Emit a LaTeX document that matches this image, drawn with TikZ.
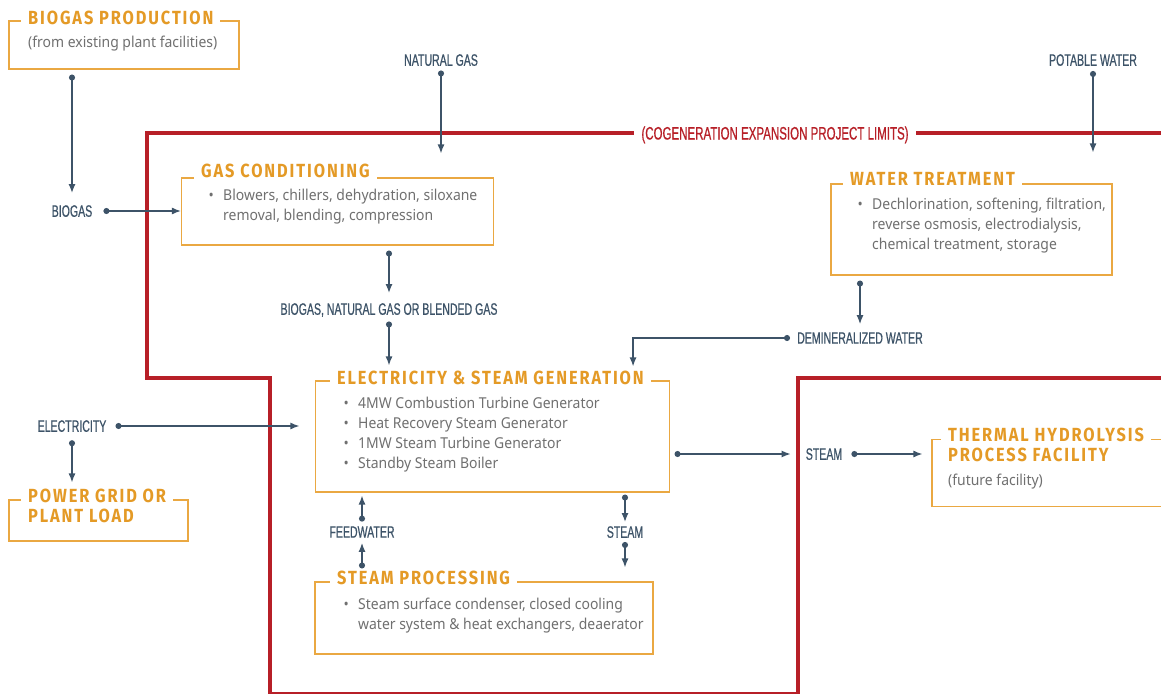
\documentclass[tikz,border=0pt]{standalone}
\usepackage{fontspec}
\usetikzlibrary{arrows.meta}
\definecolor{headorange}{RGB}{228,154,38}
\definecolor{boxorange}{RGB}{234,168,66}
\definecolor{limitred}{RGB}{183,31,39}
\definecolor{slate}{RGB}{61,83,104}
\definecolor{textgray}{RGB}{112,112,112}
\newfontfamily\headfont{Fira Sans}[FakeStretch=0.86,LetterSpace=10]
\newfontfamily\bodyfont{Noto Sans}[FakeStretch=0.93]
\newfontfamily\lblfont{Liberation Sans}[FakeStretch=0.64,FakeBold=0.6]
\newcommand\bul{\makebox[0pt][c]{\textbullet}\hspace*{12pt}}
\newcommand\nobul{\hspace*{12pt}}
\begin{document}
\begin{tikzpicture}[x=1pt,y=-1pt,
  box/.style={draw=boxorange,line width=1.1pt,inner sep=0pt},
  head/.style={font=\headfont\bfseries\fontsize{19}{20}\selectfont,text=headorange,fill=white,inner xsep=7pt,inner ysep=2pt,anchor=base west,align=left},
  body/.style={font=\bodyfont\fontsize{15}{20}\selectfont,text=textgray,inner sep=0pt,anchor=base west,align=left},
  lbl/.style={font=\lblfont\fontsize{16.5}{18}\selectfont,text=slate,inner sep=4pt,text depth=0pt},
  flow/.style={draw=slate,line width=1.4pt,{Circle[length=6pt]}-{Latex[length=9pt,width=7pt]}}]
\clip (0,0) rectangle (1161,693);
\fill[white] (0,0) rectangle (1161,693);
\draw[limitred,line width=4.2pt] (1170,133) -- (147,133) -- (147,378) -- (270,378) -- (270,694) -- (798,694) -- (798,378) -- (1170,378);
\node[font=\lblfont\fontsize{18}{20}\selectfont,text=limitred,fill=white,inner xsep=7pt,text depth=0pt] (limits) at (775,133) {(COGENERATION EXPANSION PROJECT LIMITS)};

\node[box,minimum width=230pt,minimum height=48pt] (biogasprod) at (124,45) {};
\node[box,minimum width=312pt,minimum height=67pt] (gascond) at (337.5,211.5) {};
\node[box,minimum width=281pt,minimum height=91pt] (watertreat) at (971.5,229.5) {};
\node[box,minimum width=354pt,minimum height=111pt] (elecsteam) at (492.5,436.5) {};
\node[box,minimum width=179pt,minimum height=41pt] (powergrid) at (98.5,520.5) {};
\node[box,minimum width=338pt,minimum height=72pt] (steamproc) at (484,618) {};
\node[box,minimum width=260pt,minimum height=67pt] (thermal) at (1062,473) {};

\node[head] (biogasprodhd) at (21,25) {BIOGAS PRODUCTION};
\node[head] (gascondhd) at (194,177.3) {GAS CONDITIONING};
\node[head] (watertreathd) at (843,185) {WATER TREATMENT};
\node[head] (elecsteamhd) at (330,384.3) {ELECTRICITY \& STEAM GENERATION};
\node[head] (powergridhd) at (21,522.7) {POWER GRID OR\\PLANT LOAD};
\node[head] (steamprochd) at (330,584.3) {STEAM PROCESSING};
\node[head] (thermalhd) at (941,461.7) {THERMAL HYDROLYSIS\\PROCESS FACILITY};

\node[body] (biogasprodtx) at (28,48) {(from existing plant facilities)};
\node[body] (gascondtx) at (211,220.5) {\bul Blowers, chillers, dehydration, siloxane\\\nobul removal, blending, compression};
\node[body] (watertreattx) at (860,249.3) {\bul Dechlorination, softening, filtration,\\\nobul reverse osmosis, electrodialysis,\\\nobul chemical treatment, storage};
\node[body] (elecsteamtx) at (346,468.3) {\bul 4MW Combustion Turbine Generator\\\bul Heat Recovery Steam Generator\\\bul 1MW Steam Turbine Generator\\\bul Standby Steam Boiler};
\node[body] (steamproctx) at (346,629) {\bul Steam surface condenser, closed cooling\\\nobul water system \& heat exchangers, deaerator};
\node[body] (thermaltx) at (948,485) {(future facility)};

\node[lbl] (natgas) at (441,60) {NATURAL GAS};
\node[lbl] (potable) at (1093,60) {POTABLE WATER};
\node[lbl] (biogas) at (72,211) {BIOGAS};
\node[lbl] (blend) at (389,309) {BIOGAS, NATURAL GAS OR BLENDED GAS};
\node[lbl] (demin) at (860,338) {DEMINERALIZED WATER};
\node[lbl] (elec) at (72,426) {ELECTRICITY};
\node[lbl] (steamout) at (824,454) {STEAM};
\node[lbl] (feed) at (362,532) {FEEDWATER};
\node[lbl] (steamdown) at (625,532) {STEAM};

\draw[flow,shorten <=5pt,shorten >=8pt] (biogas |- biogasprod.south) -- (biogas.north);
\draw[flow,shorten <=7pt] (biogas.east) -- (biogas -| gascond.west);
\draw[flow,shorten <=0.5pt,shorten >=24pt] (natgas.south) -- (natgas |- gascond.north);
\draw[flow,shorten <=1pt,shorten >=31pt] (potable.south) -- (potable |- watertreat.north);
\draw[flow,shorten <=5pt,shorten >=6pt] (blend |- gascond.south) -- (blend.north);
\draw[flow,shorten <=2.5pt,shorten >=15pt] (blend.south) -- (blend |- elecsteam.north);
\draw[flow,shorten <=5pt,shorten >=4pt] (demin |- watertreat.south) -- (demin.north);
\draw[flow,shorten <=3pt,shorten >=14pt] (demin.west) -| ([xshift=-37pt]elecsteam.north east);
\draw[flow,shorten <=5pt,shorten >=15.5pt] (elec.east) -- (elec -| elecsteam.west);
\draw[flow,shorten <=4.25pt,shorten >=17pt] (elec.south) -- (elec |- powergrid.north);
\draw[flow,shorten <=4.5pt,shorten >=11pt] (elecsteam.east |- steamout) -- (steamout.west);
\draw[flow,shorten <=5pt,shorten >=9pt] (steamout.east) -- (steamout -| thermal.west);
\draw[flow,shorten <=0.5pt,shorten >=3pt] (feed.north) -- (feed |- elecsteam.south);
\draw[flow,shorten <=13pt,shorten >=1pt] (feed |- steamproc.north) -- (feed.south);
\draw[flow,shorten <=2pt] (steamdown |- elecsteam.south) -- (steamdown.north);
\draw[flow,shorten >=14pt] (steamdown.south) -- (steamdown |- steamproc.north);
\end{tikzpicture}
\end{document}
